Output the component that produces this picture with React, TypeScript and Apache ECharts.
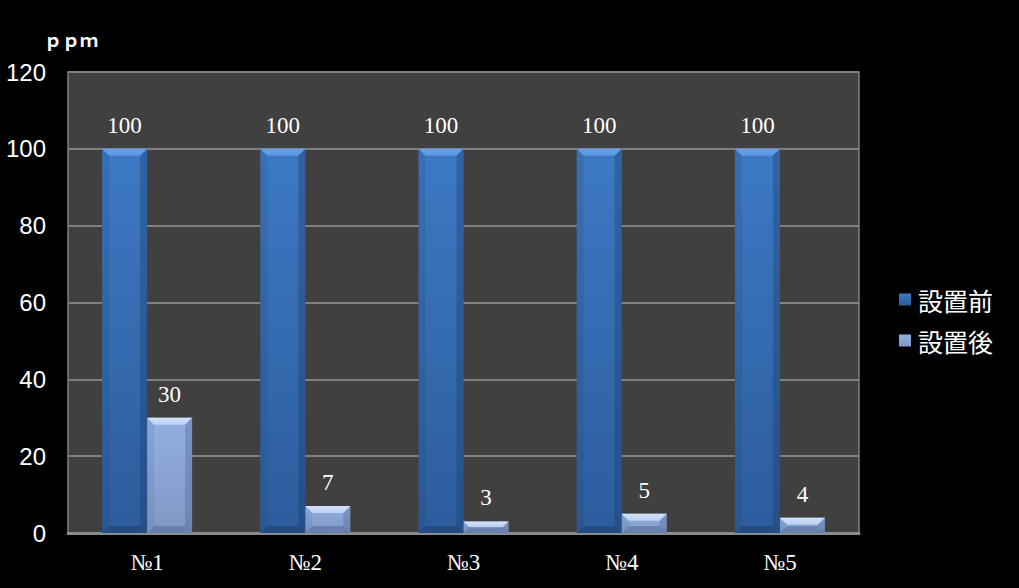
import { useEffect, useRef } from 'react';
import * as echarts from 'echarts';

const categories = ['№1', '№2', '№3', '№4', '№5'];
const beforeValues = [100, 100, 100, 100, 100];
const afterValues = [30, 7, 3, 5, 4];
const seriesNames = ['設置前', '設置後'];

const BAR_W = 45;

// bevel look for each bar: light top facet, dark side strips and bottom facet
function bevelSeries(values: number[], offset: number, light: string, dark: string) {
  return {
    type: 'custom',
    silent: true,
    z: 3,
    data: values.map((v, i) => [i, v]),
    renderItem: (_p: unknown, api: any) => {
      const i = api.value(0);
      const v = api.value(1);
      const top = api.coord([i, v]);
      const base = api.coord([i, 0]);
      const x0 = top[0] + offset - BAR_W / 2;
      const x1 = x0 + BAR_W;
      const y0 = top[1];
      const y1 = base[1];
      const b = Math.min(7, (y1 - y0) / 2);
      return {
        type: 'group',
        children: [
          {
            type: 'polygon',
            shape: { points: [[x0, y0], [x1, y0], [x1 - b, y0 + b], [x0 + b, y0 + b]] },
            style: {
              fill: new echarts.graphic.LinearGradient(0, 0, 0, 1, [
                { offset: 0, color: light },
                { offset: 1, color: light + 'aa' },
              ]),
            },
          },
          {
            type: 'polygon',
            shape: { points: [[x1, y0], [x1, y1], [x1 - b, y1 - b], [x1 - b, y0 + b]] },
            style: { fill: dark, opacity: 0.35 },
          },
          {
            type: 'polygon',
            shape: { points: [[x0, y0], [x0, y1], [x0 + b, y1 - b], [x0 + b, y0 + b]] },
            style: { fill: dark, opacity: 0.15 },
          },
          {
            type: 'polygon',
            shape: { points: [[x0, y1], [x1, y1], [x1 - b, y1 - b], [x0 + b, y1 - b]] },
            style: { fill: dark, opacity: 0.45 },
          },
        ],
      };
    },
  };
}

export default function App() {
  const el = useRef<HTMLDivElement>(null);

  useEffect(() => {
    document.body.style.margin = '0';
    document.body.style.background = '#000';
    if (!el.current) return;
    const chart = echarts.init(el.current, null, { renderer: 'svg' });
    const labelStyle = {
      show: true,
      position: 'top',
      distance: 12,
      color: '#ffffff',
      fontFamily: '"Liberation Serif", "DejaVu Serif", serif',
      fontSize: 23,
    };
    chart.setOption({
      animation: false,
      backgroundColor: '#000000',
      grid: {
        show: true,
        left: 68,
        right: 160,
        top: 72,
        bottom: 55,
        backgroundColor: '#404040',
        borderColor: '#808080',
        borderWidth: 1.5,
      },
      graphic: [
        {
          type: 'text',
          left: 44,
          top: 30,
          style: {
            text: 'ｐｐｍ',
            fill: '#ffffff',
            font: 'bold 18px "Noto Sans CJK JP", sans-serif',
          },
        },
      ],
      legend: {
        orient: 'vertical',
        left: 894,
        top: 282,
        itemWidth: 12,
        itemHeight: 12,
        itemGap: 16,
        icon: 'rect',
        data: seriesNames,
        textStyle: {
          color: '#ffffff',
          fontSize: 25,
          fontFamily: '"Noto Sans CJK JP", sans-serif',
          padding: [0, 0, 0, 2],
        },
      },
      xAxis: {
        type: 'category',
        data: categories,
        axisTick: { show: false },
        axisLine: { lineStyle: { color: '#8c8c8c', width: 3 } },
        axisLabel: {
          color: '#ffffff',
          fontSize: 23,
          fontFamily: '"Liberation Serif", "DejaVu Serif", serif',
          margin: 18,
        },
      },
      yAxis: {
        type: 'value',
        min: 0,
        max: 120,
        interval: 20,
        axisLine: { show: false },
        axisTick: { show: false },
        splitLine: { lineStyle: { color: '#808080', width: 2 } },
        axisLabel: {
          color: '#ffffff',
          fontSize: 24,
          fontFamily: '"Liberation Sans", Arial, sans-serif',
          margin: 22,
        },
      },
      series: [
        {
          name: seriesNames[0],
          type: 'bar',
          barWidth: BAR_W,
          barGap: '0%',
          data: beforeValues,
          label: labelStyle,
          itemStyle: {
            color: new echarts.graphic.LinearGradient(0, 0, 0, 1, [
              { offset: 0, color: '#3d79c4' },
              { offset: 1, color: '#2c5c9c' },
            ]),
          },
        },
        {
          name: seriesNames[1],
          type: 'bar',
          barWidth: BAR_W,
          barGap: '0%',
          data: afterValues,
          label: labelStyle,
          itemStyle: {
            color: new echarts.graphic.LinearGradient(0, 0, 0, 1, [
              { offset: 0, color: '#93b0e0' },
              { offset: 1, color: '#7f98c6' },
            ]),
          },
        },
        bevelSeries(beforeValues, -BAR_W / 2, '#6aa3ea', '#1a3a66'),
        bevelSeries(afterValues, BAR_W / 2, '#d2e2f8', '#4a6290'),
      ],
    } as any);
    return () => chart.dispose();
  }, []);

  return <div ref={el} style={{ width: 1019, height: 588 }} />;
}
